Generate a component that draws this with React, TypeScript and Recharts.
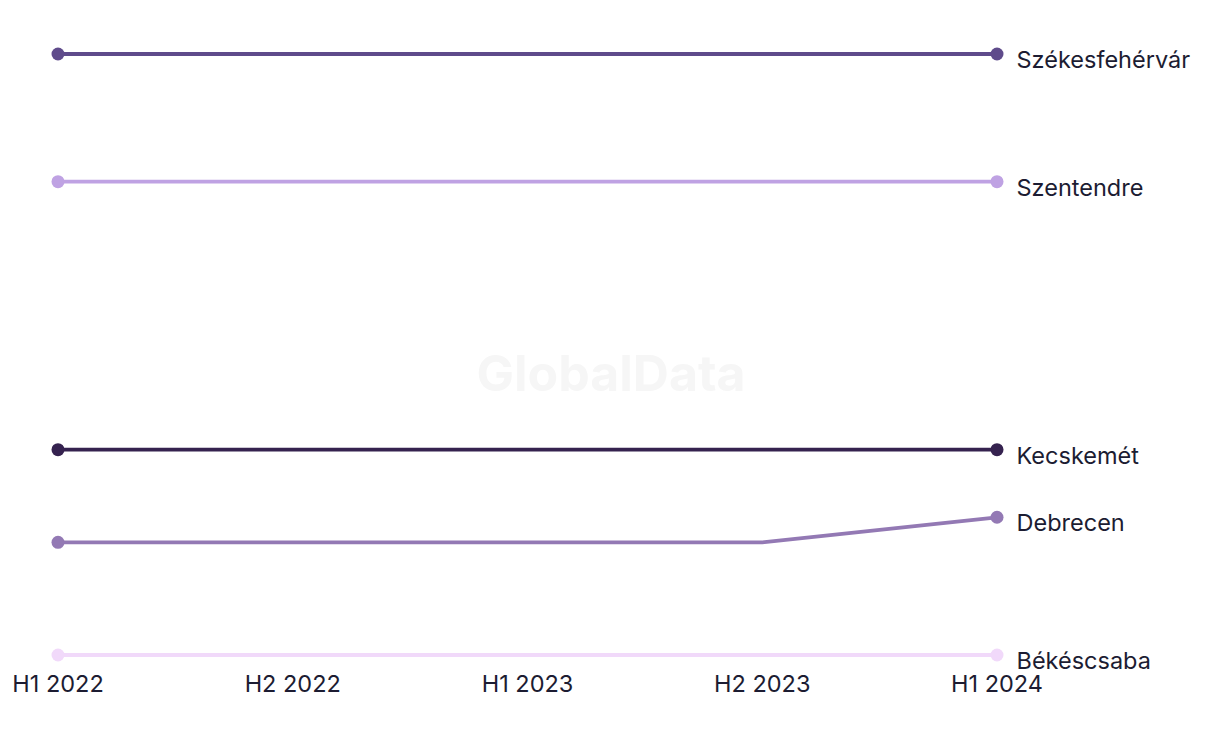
import React from 'react';
import { LineChart, Line, XAxis, YAxis, LabelList } from 'recharts';

const periods = ['H1 2022', 'H2 2022', 'H1 2023', 'H2 2023', 'H1 2024'];
const szekesfehervar = [25, 25, 25, 25, 25];
const szentendre = [19.9, 19.9, 19.9, 19.9, 19.9];
const kecskemet = [9.2, 9.2, 9.2, 9.2, 9.2];
const debrecen = [5.5, 5.5, 5.5, 5.5, 6.5];
const bekescsaba = [1, 1, 1, 1, 1];

const seriesNames = ['Székesfehérvár', 'Szentendre', 'Kecskemét', 'Debrecen', 'Békéscsaba'];
const seriesValues = [szekesfehervar, szentendre, kecskemet, debrecen, bekescsaba];
const seriesColors = ['#5f4b8b', '#bfa2e3', '#35224f', '#9379b4', '#f1d9fa'];

const data = periods.map((p, i) => {
  const row: Record<string, string | number> = { period: p };
  seriesNames.forEach((n, k) => {
    row[n] = seriesValues[k][i];
  });
  return row;
});

const FONT = 'Inter, "Noto Sans", sans-serif';
const TEXT = '#1c1c32';
const last = periods.length - 1;

export default function App() {
  return (
    <div style={{ position: 'relative', width: 1204, height: 728 }}>
      <div
        style={{
          position: 'absolute',
          left: 0,
          width: 1206,
          top: 333,
          textAlign: 'center',
          fontFamily: FONT,
          fontWeight: 700,
          fontSize: 50,
          color: '#f6f6f6',
          lineHeight: '64px',
        }}
      >
        GlobalData
      </div>
      <LineChart
        width={1204}
        height={728}
        data={data}
        margin={{ top: 46, right: 215, left: 50, bottom: 51 }}
        style={{ position: 'absolute', left: 0, top: 0 }}
      >
        <XAxis
          dataKey="period"
          axisLine={false}
          tickLine={false}
          tickSize={6}
          tickMargin={14}
          height={30}
          interval={0}
          tick={{ fill: TEXT, fontSize: 23.5, fontFamily: FONT }}
        />
        <YAxis hide domain={[1, 25]} />
        {seriesNames.map((name, k) => (
          <Line
            key={name}
            dataKey={name}
            stroke={seriesColors[k]}
            strokeWidth={3.8}
            isAnimationActive={false}
            dot={(props: any) =>
              props.index === 0 || props.index === last ? (
                <circle key={`${name}-d${props.index}`} cx={props.cx} cy={props.cy} r={6.5} fill={seriesColors[k]} />
              ) : (
                <g key={`${name}-d${props.index}`} />
              )
            }
            activeDot={false}
          >
            <LabelList
              dataKey={name}
              content={(props: any) =>
                props.index === last ? (
                  <text
                    x={props.x + 19.5}
                    y={props.y + 14}
                    fill={TEXT}
                    fontSize={23.5}
                    fontFamily={FONT}
                  >
                    {name}
                  </text>
                ) : null
              }
            />
          </Line>
        ))}
      </LineChart>
    </div>
  );
}
